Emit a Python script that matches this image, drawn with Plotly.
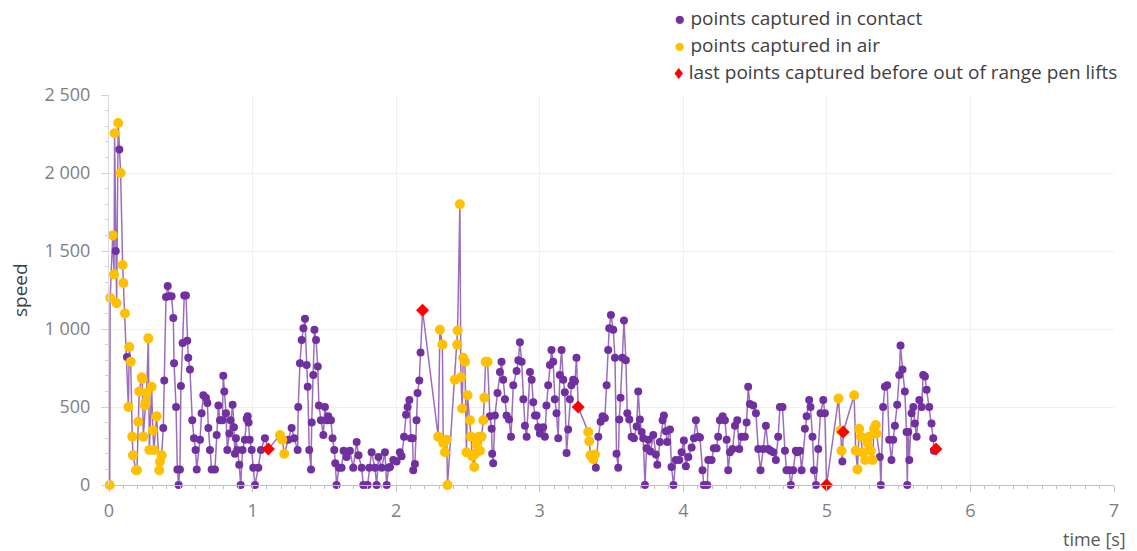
import plotly.graph_objects as go

# ---- data (time [s], speed, state: c=contact, a=air, r=last point before pen lift) ----
t_seg1 = [0.005, 0.008, 0.026, 0.035, 0.039, 0.047, 0.053, 0.064, 0.072, 0.081,
          0.095, 0.100, 0.111, 0.125, 0.135, 0.141, 0.151, 0.162, 0.167, 0.188,
          0.195, 0.204, 0.211, 0.228, 0.232, 0.239, 0.251, 0.255, 0.262, 0.274,
          0.281, 0.297, 0.305, 0.313, 0.332, 0.350, 0.355, 0.367]
v_seg1 = [0, 1200, 1600, 1350, 2255, 1500, 1165, 2320, 2150, 2000,
          1410, 1295, 1100, 820, 500, 885, 790, 310, 190, 95,
          95, 405, 600, 690, 680, 310, 510, 530, 590, 940,
          225, 630, 350, 225, 440, 95, 150, 190]
s_seg1 = "aaaaacaacaaaacaaaaaaaaaaaaaaaaaaaaaaaa"

t_seg2 = [0.378, 0.385, 0.397, 0.409, 0.420, 0.436, 0.448, 0.453, 0.467, 0.476,
          0.485, 0.494, 0.501, 0.513, 0.524, 0.536, 0.545, 0.552, 0.564, 0.580,
          0.592, 0.603, 0.611, 0.634, 0.645, 0.657, 0.675, 0.685, 0.692, 0.703,
          0.715, 0.738, 0.750, 0.762, 0.773, 0.790, 0.796, 0.803, 0.815, 0.824,
          0.838, 0.847, 0.861, 0.870, 0.877, 0.884, 0.893, 0.907, 0.917, 0.930,
          0.946, 0.959, 0.966, 0.972, 0.980, 0.994, 1.005, 1.017, 1.040, 1.058,
          1.086, 1.110]
v_seg2 = [365, 670, 1205, 1275, 1210, 1210, 1070, 780, 500, 100,
          0, 100, 635, 910, 1215, 1215, 925, 815, 740, 415,
          300, 225, 100, 290, 460, 575, 560, 525, 365, 225,
          100, 100, 320, 510, 415, 415, 700, 600, 460, 225,
          330, 415, 515, 370, 200, 300, 225, 130, 0, 225,
          290, 425, 440, 400, 290, 225, 110, 0, 110, 225,
          300, 230]
s_seg2 = "c" * 61 + "r"

t_seg3 = [1.191, 1.207, 1.221]
v_seg3 = [320, 290, 200]
s_seg3 = "aaa"

t_seg4 = [1.249, 1.272, 1.290, 1.314, 1.318, 1.330, 1.342, 1.354, 1.365, 1.377,
          1.384, 1.395, 1.407, 1.412, 1.423, 1.431, 1.442, 1.454, 1.462, 1.476,
          1.493, 1.504, 1.517, 1.527, 1.546, 1.557, 1.569, 1.576, 1.585, 1.602,
          1.620, 1.634, 1.655, 1.678, 1.701, 1.725, 1.738, 1.760, 1.771, 1.801,
          1.813, 1.829, 1.852, 1.864, 1.877, 1.899, 1.922, 1.934, 1.947, 1.957,
          1.980, 2.003, 2.026, 2.038, 2.055, 2.069, 2.080, 2.092, 2.103, 2.115,
          2.119, 2.131, 2.142, 2.149, 2.161, 2.170, 2.184]
v_seg4 = [290, 365, 300, 225, 500, 780, 930, 1005, 1065, 770,
          630, 225, 100, 400, 705, 995, 930, 760, 510, 415,
          320, 500, 415, 440, 415, 300, 225, 140, 0, 110,
          110, 220, 180, 220, 110, 275, 190, 110, 0, 0,
          110, 210, 110, 0, 180, 110, 210, 0, 110, 115,
          160, 150, 210, 185, 310, 450, 500, 545, 300, 300,
          95, 135, 415, 590, 670, 850, 1120]
s_seg4 = "c" * 66 + "r"

t_seg5 = [2.293, 2.305, 2.322, 2.328, 2.340, 2.352, 2.358, 2.409, 2.426, 2.428,
          2.444, 2.451, 2.460, 2.467, 2.479, 2.490, 2.497, 2.514, 2.521, 2.530,
          2.544, 2.549, 2.560, 2.577, 2.584, 2.595, 2.607, 2.614, 2.623, 2.637]
v_seg5 = [310, 995, 900, 270, 210, 290, 0, 675, 900, 990,
          1800, 690, 490, 815, 790, 210, 575, 415, 310, 185,
          115, 200, 260, 310, 220, 310, 415, 560, 790, 790]
s_seg5 = "a" * 30

t_seg6 = [2.653, 2.665, 2.669, 2.676, 2.688, 2.706, 2.723, 2.734, 2.746, 2.758,
          2.769, 2.786, 2.800, 2.816, 2.839, 2.851, 2.862, 2.874, 2.886, 2.897,
          2.909, 2.932, 2.944, 2.955, 2.967, 2.978, 2.990, 3.001, 3.024, 3.036,
          3.047, 3.059, 3.071, 3.082, 3.094, 3.105, 3.117, 3.129, 3.140, 3.152,
          3.164, 3.175, 3.187, 3.198, 3.210, 3.221, 3.233, 3.245, 3.256, 3.268]
v_seg6 = [440, 360, 200, 140, 445, 590, 725, 790, 675, 550,
          445, 420, 310, 640, 730, 800, 915, 790, 550, 380,
          310, 725, 675, 530, 445, 445, 370, 330, 370, 310,
          510, 640, 770, 865, 790, 550, 460, 300, 705, 865,
          675, 595, 205, 355, 550, 640, 675, 665, 815, 500]
s_seg6 = "c" * 49 + "r"

t_seg7 = [3.338, 3.345, 3.354, 3.373, 3.385]
v_seg7 = [340, 280, 190, 165, 195]
s_seg7 = "aaaaa"

t_seg8 = [3.391, 3.408, 3.424, 3.438, 3.454, 3.466, 3.477, 3.484, 3.496, 3.512,
          3.524, 3.535, 3.547, 3.554, 3.563, 3.575, 3.587, 3.600, 3.610, 3.624,
          3.640, 3.656, 3.675, 3.686, 3.698, 3.710, 3.721, 3.733, 3.744, 3.756,
          3.772, 3.791, 3.809, 3.819, 3.837, 3.856, 3.865, 3.879, 3.888, 3.907,
          3.918, 3.932, 3.948, 3.972, 3.988, 4.004, 4.018, 4.035, 4.058, 4.074,
          4.088, 4.104, 4.116, 4.134, 4.143, 4.167, 4.174, 4.197, 4.213, 4.232,
          4.243, 4.255, 4.274, 4.290, 4.302, 4.313, 4.325, 4.343, 4.360, 4.376,
          4.390, 4.406, 4.429, 4.441, 4.452, 4.464, 4.487, 4.506, 4.522, 4.538,
          4.557, 4.575, 4.592, 4.608, 4.627, 4.645, 4.661, 4.673, 4.691, 4.708,
          4.719, 4.738, 4.749, 4.765, 4.784, 4.793, 4.812, 4.824, 4.847, 4.859,
          4.877, 4.886, 4.900, 4.910, 4.924, 4.940, 4.956, 4.975, 4.986, 4.998]
v_seg8 = [110, 310, 405, 440, 430, 640, 865, 1005, 1090, 995,
          815, 200, 110, 420, 560, 815, 1055, 800, 460, 420,
          310, 300, 375, 600, 420, 340, 300, 0, 235, 290,
          215, 320, 195, 130, 275, 415, 445, 345, 275, 355,
          115, 0, 160, 160, 210, 285, 120, 180, 240, 300,
          415, 310, 305, 95, 0, 0, 160, 160, 235, 235,
          310, 415, 440, 415, 290, 95, 210, 230, 380, 415,
          230, 310, 310, 400, 630, 520, 510, 460, 230, 95,
          230, 380, 230, 220, 210, 160, 310, 500, 500, 220,
          95, 95, 0, 95, 220, 210, 220, 95, 360, 440,
          545, 500, 310, 95, 0, 230, 460, 545, 460, 0]
s_seg8 = "c" * 109 + "r"

t_seg9 = [5.081, 5.095, 5.102, 5.108, 5.114]
v_seg9 = [555, 350, 220, 150, 340]
s_seg9 = "aaacr"

t_seg10 = [5.190, 5.201, 5.213, 5.225, 5.236, 5.248, 5.267, 5.283, 5.294, 5.306,
           5.318, 5.329, 5.341, 5.346]
v_seg10 = [575, 220, 100, 360, 310, 210, 160, 270, 310, 220,
           160, 360, 385, 330]
s_seg10 = "a" * 14

t_seg11 = [5.369, 5.376, 5.392, 5.404, 5.420, 5.434, 5.450, 5.462, 5.474, 5.490,
           5.504, 5.513, 5.527, 5.543, 5.555, 5.560, 5.567, 5.574, 5.590, 5.602,
           5.613, 5.625, 5.644, 5.660, 5.671, 5.683, 5.695, 5.713, 5.729, 5.741,
           5.746, 5.760]
v_seg11 = [180, 0, 500, 630, 640, 290, 160, 290, 380, 515,
           705, 895, 740, 600, 340, 0, 340, 160, 460, 500,
           395, 310, 545, 500, 705, 695, 610, 500, 395, 300,
           220, 230]
s_seg11 = "c" * 31 + "r"

y_tick_vals = [0, 500, 1000, 1500, 2000, 2500]
y_tick_text = ["0", "500", "1 000", "1 500", "2 000", "2 500"]
x_tick_vals = [0, 1, 2, 3, 4, 5, 6, 7]

legend_labels = ["points captured in contact", "points captured in air",
                 "last points captured before out of range pen lifts"]

# ---- assemble ----
segs = [(t_seg1, v_seg1, s_seg1), (t_seg2, v_seg2, s_seg2), (t_seg3, v_seg3, s_seg3),
        (t_seg4, v_seg4, s_seg4), (t_seg5, v_seg5, s_seg5), (t_seg6, v_seg6, s_seg6),
        (t_seg7, v_seg7, s_seg7), (t_seg8, v_seg8, s_seg8), (t_seg9, v_seg9, s_seg9),
        (t_seg10, v_seg10, s_seg10), (t_seg11, v_seg11, s_seg11)]
time_s, speed, state = [], [], []
for i, (t, v, s) in enumerate(segs):
    if not (len(t) == len(v) == len(s)):
        raise ValueError(f"segment {i+1}: {len(t)} {len(v)} {len(s)}")
    time_s += t
    speed += v
    state += list(s)

PURPLE = "#7030a0"
YELLOW = "#ffc000"
RED = "#ff0000"

def pick(code):
    xs = [t for t, s in zip(time_s, state) if s == code]
    ys = [v for v, s in zip(speed, state) if s == code]
    return xs, ys

fig = go.Figure()
fig.add_trace(go.Scatter(x=time_s, y=speed, mode="lines",
                         line=dict(color="rgba(112,48,160,0.7)", width=1.5),
                         showlegend=False, hoverinfo="skip", cliponaxis=False))
xc, yc = pick("c")
fig.add_trace(go.Scatter(x=xc, y=yc, mode="markers", name=legend_labels[0],
                         marker=dict(color=PURPLE, size=8), showlegend=False, cliponaxis=False))
xa, ya = pick("a")
fig.add_trace(go.Scatter(x=xa, y=ya, mode="markers", name=legend_labels[1],
                         marker=dict(color=YELLOW, size=10), showlegend=False, cliponaxis=False))
xr, yr = pick("r")
fig.add_trace(go.Scatter(x=xr, y=yr, mode="markers", name=legend_labels[2],
                         marker=dict(color=RED, size=10, symbol="diamond"), showlegend=False,
                         cliponaxis=False))

FONT = "Open Sans"
L, R, T, B = 109, 23, 95, 66
W, H = 1137, 551
pw, ph = W - L - R, H - T - B

def px_x(px):
    return (px - L) / pw

def px_y(py):
    return (H - B - py) / ph

annotations = []
legend_colors = [PURPLE, YELLOW, RED]
legend_syms = ["●", "●", "♦"]
for i, (lab, col, sym) in enumerate(zip(legend_labels, legend_colors, legend_syms)):
    annotations.append(dict(
        xref="paper", yref="paper", x=px_x(672), y=px_y(18 + 27 * i),
        xanchor="left", yanchor="middle", showarrow=False,
        text=f"<span style='color:{col}'>{sym}</span> {lab}",
        font=dict(family=FONT, size=19, color="#404040")))
annotations.append(dict(xref="paper", yref="paper", x=px_x(20), y=px_y(290),
                        xanchor="center", yanchor="middle", textangle=-90, showarrow=False,
                        text="speed", font=dict(family=FONT, size=19, color="#404040")))
annotations.append(dict(xref="paper", yref="paper", x=px_x(1128), y=px_y(539),
                        xanchor="right", yanchor="middle", showarrow=False,
                        text="time [s]", font=dict(family=FONT, size=18, color="#595959")))

fig.update_layout(
    width=W, height=H,
    margin=dict(l=L, r=R, t=T, b=B, pad=0),
    paper_bgcolor="white", plot_bgcolor="white",
    font=dict(family=FONT, color="#7f7f7f"),
    showlegend=False,
    annotations=annotations,
    xaxis=dict(range=[0, 7], tickvals=x_tick_vals, showgrid=True, gridcolor="#f0f0f0",
               zeroline=False, showline=True, linecolor="#bfbfbf", linewidth=1,
               ticks="outside", ticklen=6, tickcolor="#bfbfbf",
               tickfont=dict(family=FONT, size=18, color="#7f7f7f"),
               ticklabelstandoff=3,
               minor=dict(dtick=0.1, ticks="outside", ticklen=3, tickcolor="#bfbfbf",
                          showgrid=False)),
    yaxis=dict(range=[0, 2500], tickvals=y_tick_vals, ticktext=y_tick_text,
               showgrid=True, gridcolor="#f0f0f0", zeroline=False,
               showline=True, linecolor="#d9d9d9", linewidth=1,
               ticks="outside", ticklen=7, tickcolor="#d0d0d0",
               tickfont=dict(family=FONT, size=18, color="#7f7f7f"),
               ticklabelstandoff=7,
               minor=dict(dtick=100, ticks="outside", ticklen=3, tickcolor="#d0d0d0",
                          showgrid=False)),
)

fig.write_html("out.html")
